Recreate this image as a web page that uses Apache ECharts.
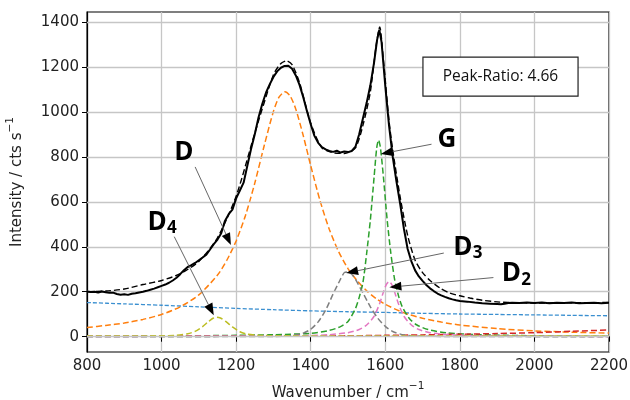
<!DOCTYPE html>
<html>
<head>
<meta charset="utf-8">
<script src="https://cdn.jsdelivr.net/npm/echarts@6/dist/echarts.min.js"></script>
<style>
html, body { margin: 0; background: #fff; }
#main { width: 630px; height: 400px; }
</style>
</head>
<body>
<div id="main"></div>
<script>
// measured spectrum (solid black)
var measured = [[800,201],[810,199],[820,200],[830,197],[840,201],[850,198],[860,195],[870,196],[880,190],[890,187],[900,189],[910,186],[920,191],[930,193],[940,197],[950,200],[960,204],[970,209],[980,214],[990,220],[1000,226],[1010,232],[1020,240],[1030,250],[1040,262],[1050,278],[1060,296],[1070,310],[1080,318],[1090,328],[1100,340],[1110,352],[1120,365],[1130,388],[1140,412],[1150,432],[1160,460],[1170,515],[1180,545],[1190,565],[1200,615],[1210,650],[1220,685],[1230,760],[1240,835],[1250,900],[1260,975],[1270,1035],[1280,1085],[1290,1122],[1300,1155],[1310,1180],[1320,1196],[1330,1204],[1340,1205],[1350,1192],[1360,1162],[1370,1120],[1380,1065],[1390,1003],[1400,945],[1410,893],[1420,862],[1430,843],[1440,833],[1450,826],[1460,822],[1470,827],[1480,819],[1490,824],[1500,821],[1510,826],[1520,845],[1530,900],[1540,970],[1550,1040],[1560,1118],[1570,1220],[1578,1320],[1584,1365],[1590,1310],[1600,1115],[1610,940],[1620,800],[1630,690],[1640,590],[1650,480],[1660,390],[1670,335],[1680,295],[1690,268],[1700,248],[1710,230],[1720,215],[1730,203],[1740,192],[1750,184],[1760,177],[1770,171],[1780,166],[1790,162],[1800,159],[1820,156],[1840,152],[1860,149],[1880,147],[1900,145],[1910,144],[1920,147],[1930,150],[1940,151],[1960,150],[1980,152],[2000,150],[2020,152],[2040,149],[2060,151],[2080,150],[2100,152],[2120,149],[2140,150],[2160,151],[2180,149],[2200,151]];
// fitted sum (dashed black)
var fitSum = [[800,200],[850,203],[900,212],[950,232],[1000,250],[1050,280],[1100,335],[1150,440],[1200,625],[1250,905],[1300,1165],[1320,1215],[1335,1227],[1350,1210],[1370,1130],[1400,950],[1430,840],[1460,818],[1490,815],[1520,840],[1540,940],[1560,1090],[1575,1290],[1585,1378],[1595,1230],[1610,960],[1620,830],[1640,620],[1660,450],[1680,340],[1700,285],[1720,250],[1747,216],[1773,194],[1800,182],[1827,172],[1860,162],[1908,154],[1950,151],[2000,150],[2100,151],[2200,152]];
// fitted bands
var bandD = [[800,41],[850,50],[900,61],[950,77],[1000,99],[1050,133],[1100,186],[1150,274],[1175,340],[1200,426],[1225,539],[1250,683],[1275,848],[1300,1002],[1315,1065],[1331,1089],[1345,1070],[1360,1012],[1380,894],[1400,761],[1425,605],[1450,477],[1475,378],[1500,303],[1525,248],[1550,204],[1575,170],[1600,144],[1650,106],[1700,82],[1750,65],[1800,52],[1900,36],[2000,26],[2100,20],[2200,16]];
var bandG = [[800,2],[1000,3],[1200,6],[1300,9],[1400,15],[1450,28],[1480,45],[1500,68],[1520,125],[1530,175],[1540,240],[1550,370],[1560,520],[1570,710],[1577,840],[1582,875],[1587,840],[1595,710],[1605,520],[1615,370],[1625,255],[1635,185],[1645,135],[1665,80],[1685,52],[1715,32],[1765,17],[1850,9],[2000,4],[2200,2]];
var bandD3 = [[800,0],[1300,1],[1350,5],[1380,16],[1400,33],[1420,66],[1440,118],[1460,190],[1475,240],[1490,285],[1500,288],[1510,278],[1520,255],[1540,195],[1560,133],[1580,82],[1600,46],[1620,23],[1650,8],[1700,2],[2200,0]];
var bandD2 = [[800,1],[1300,3],[1400,5],[1450,9],[1500,18],[1530,32],[1550,52],[1570,91],[1585,148],[1595,199],[1603,233],[1610,245],[1617,233],[1625,199],[1635,148],[1650,91],[1670,52],[1690,32],[1720,18],[1770,9],[1850,4],[2200,1]];
var bandD4 = [[800,3],[1000,4],[1040,6],[1070,13],[1090,24],[1110,45],[1125,66],[1138,82],[1148,87],[1158,83],[1172,68],[1190,44],[1210,22],[1230,11],[1260,6],[1320,4],[1600,3],[2200,3]];
var baseline = [[800,152],[900,146],[1000,140],[1100,133],[1200,126],[1300,120],[1400,115],[1500,111],[1600,108],[1700,104],[1800,101],[1900,99],[2000,97],[2100,95],[2200,93]];
var redBg = [[800,2],[1200,3],[1500,4],[1600,6],[1700,8],[1800,11],[1900,14],[2000,18],[2100,24],[2200,30]];

var yTicks = [0, 200, 400, 600, 800, 1000, 1200, 1400];

// annotations (data coordinates)
var annText = ['D', 'D', 'G', 'D', 'D'];
var annSub = ['', '4', '', '3', '2'];
var annAt = [[1060,817],[988,508],[1765,875],[1808,397],[1938,280]];
var arrowFrom = [[1090,755],[1034,445],[1724,856],[1757,372],[1890,263]];
var arrowTo = [[1186,408],[1140,95],[1588,813],[1495,283],[1611,220]];
var ratioText = 'Peak-Ratio: 4.66';
var ratioBox = [[1701,1243],[2117,1070]];

var myChart = echarts.init(document.getElementById('main'));

function dashed(name, data, color, width, dash) {
    return {
        name: name,
        type: 'line',
        data: data,
        symbol: 'none',
        smooth: 0.25,
        z: 3,
        lineStyle: { color: color, width: width, type: dash }
    };
}

var fontName = '"DejaVu Sans"';
var tickFont = { fontFamily: fontName, fontSize: 15, color: '#222' };
// axis titles with a real superscript
var titleStyle = {
    fontFamily: fontName, fontSize: 15, color: '#222',
    rich: {
        n: { fontFamily: fontName, fontSize: 15, color: '#222', lineHeight: 24 },
        s: { fontFamily: fontName, fontSize: 10.5, color: '#222', lineHeight: 12, verticalAlign: 'top' }
    }
};
function plain(v) { return String(v); }

var option = {
    animation: false,
    grid: {
        left: 87, right: 21, top: 12, bottom: 48,
        outerBoundsMode: 'none', containLabel: false,
        show: true, borderColor: '#000', borderWidth: 1.2, backgroundColor: '#fff'
    },
    xAxis: {
        type: 'value', min: 800, max: 2200, interval: 200,
        name: '{n|Wavenumber / cm}{s|−1}', nameLocation: 'middle', nameGap: 29,
        nameTextStyle: titleStyle,
        axisLine: { lineStyle: { color: '#000', width: 1.2 } },
        axisTick: { show: true, length: 5, lineStyle: { color: '#000' } },
        axisLabel: Object.assign({ margin: 7, formatter: plain }, tickFont),
        splitLine: { show: true, lineStyle: { color: '#c6c6c6', width: 1.3 } }
    },
    yAxis: {
        type: 'value', min: -68, max: 1444,
        name: '{n|Intensity / cts s}{s|−1}', nameLocation: 'middle', nameGap: 58,
        nameTextStyle: titleStyle,
        axisLine: { show: true, lineStyle: { color: '#000', width: 1.2 } },
        axisTick: { show: true, length: 5, customValues: yTicks, lineStyle: { color: '#000' } },
        axisLabel: Object.assign({ margin: 8, customValues: yTicks, formatter: plain }, tickFont),
        splitLine: { show: false }
    },
    series: [
        {
            type: 'line', data: [], z: 1, silent: true,
            markLine: {
                silent: true, symbol: 'none', label: { show: false }, animation: false,
                lineStyle: { color: '#c6c6c6', width: 1.3, type: 'solid' },
                data: yTicks.map(function (v) { return { yAxis: v }; })
            }
        },
        dashed('baseline', baseline, '#3a8fd0', 1.3, [4, 2]),
        dashed('D', bandD, '#ff7f0e', 1.5, [6, 3]),
        dashed('G', bandG, '#2ca02c', 1.5, [6, 3]),
        dashed('red', redBg, '#d62728', 1.5, [6, 3]),
        dashed('D2', bandD2, '#e377c2', 1.5, [6, 3]),
        dashed('D3', bandD3, '#7f7f7f', 1.5, [6, 3]),
        dashed('D4', bandD4, '#bcbd22', 1.5, [6, 3]),
        {
            name: 'measured', type: 'line', data: measured, symbol: 'none', z: 5,
            lineStyle: { color: '#000', width: 2 }
        },
        {
            name: 'fit', type: 'line', data: fitSum, symbol: 'none', smooth: 0.25, z: 6,
            lineStyle: { color: '#000', width: 1.4, type: [6, 3] }
        }
    ]
};
myChart.setOption(option);

// arrows, labels and the ratio box, placed through the chart's own scales
var graphics = [];
for (var i = 0; i < annText.length; i++) {
    var a = myChart.convertToPixel({ gridIndex: 0 }, arrowFrom[i]);
    var b = myChart.convertToPixel({ gridIndex: 0 }, arrowTo[i]);
    var dx = b[0] - a[0], dy = b[1] - a[1];
    var len = Math.sqrt(dx * dx + dy * dy);
    var ux = dx / len, uy = dy / len;
    var hl = 12, hw = 4.5;
    var bx = b[0] - ux * hl, by = b[1] - uy * hl;
    graphics.push({ type: 'line', z: 10, shape: { x1: a[0], y1: a[1], x2: bx, y2: by }, style: { stroke: '#666', lineWidth: 1 } });
    graphics.push({ type: 'polygon', z: 10, shape: { points: [[b[0], b[1]], [bx - uy * hw, by + ux * hw], [bx + uy * hw, by - ux * hw]] }, style: { fill: '#000' } });
    var t = myChart.convertToPixel({ gridIndex: 0 }, annAt[i]);
    graphics.push({ type: 'text', z: 11, x: t[0], y: t[1], style: { text: annText[i], font: 'bold 26px "Open Sans"', fill: '#000', align: 'center', verticalAlign: 'middle' } });
    if (annSub[i]) {
        graphics.push({ type: 'text', z: 11, x: t[0] + 10, y: t[1] + 6, style: { text: annSub[i], font: 'bold 17px "Open Sans"', fill: '#000', align: 'left', verticalAlign: 'middle' } });
    }
}
var r1 = myChart.convertToPixel({ gridIndex: 0 }, ratioBox[0]);
var r2 = myChart.convertToPixel({ gridIndex: 0 }, ratioBox[1]);
graphics.push({ type: 'rect', z: 10, shape: { x: r1[0], y: r1[1], width: r2[0] - r1[0], height: r2[1] - r1[1] }, style: { fill: '#fff', stroke: '#222', lineWidth: 1.2 } });
graphics.push({ type: 'text', z: 11, x: (r1[0] + r2[0]) / 2, y: (r1[1] + r2[1]) / 2, style: { text: ratioText, font: '15.5px "Open Sans"', fill: '#111', align: 'center', verticalAlign: 'middle' } });
myChart.setOption({ graphic: graphics });
</script>
</body>
</html>
